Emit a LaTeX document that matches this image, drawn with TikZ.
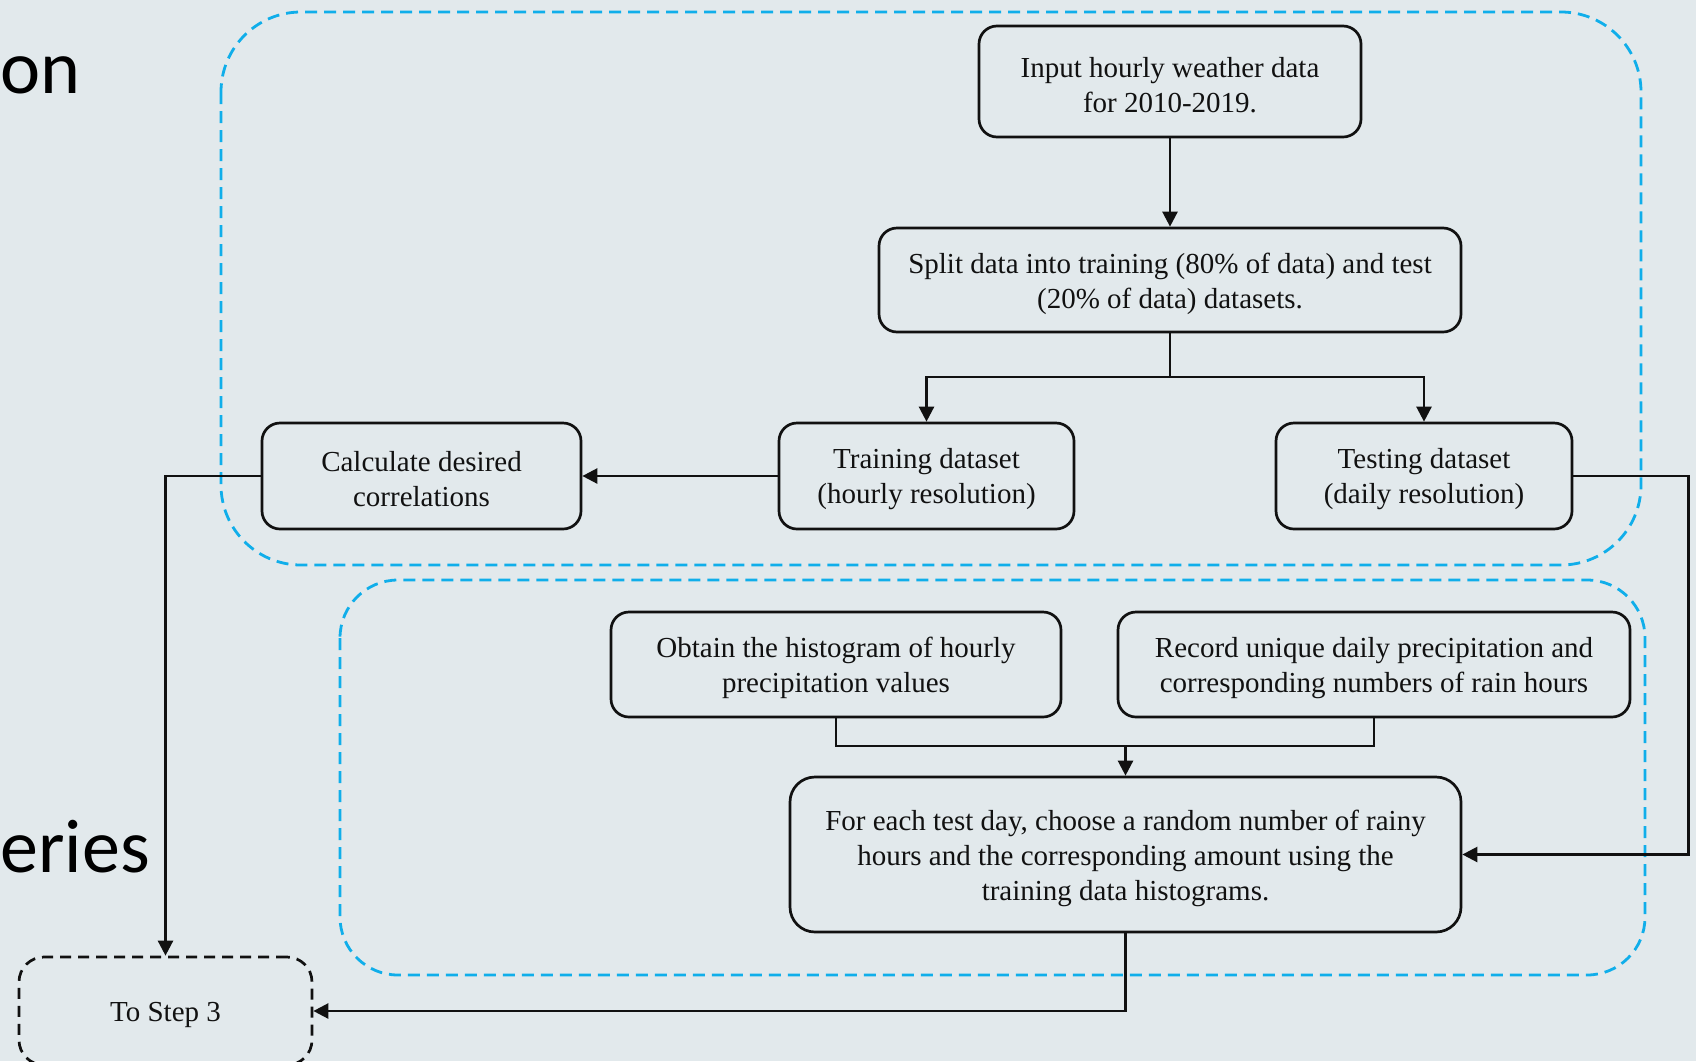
\documentclass[tikz,border=0pt]{standalone}
\usepackage{fontspec}
\setmainfont{Liberation Serif}
\newfontfamily\titlefont{Carlito}
\usetikzlibrary{arrows.meta}
\definecolor{bgcol}{HTML}{E2E9EC}
\definecolor{dashblue}{HTML}{10AEEA}
\definecolor{ink}{HTML}{111111}
\tikzset{
  box/.style={draw=ink, line width=2.7pt, rounded corners=18pt, inner sep=0pt},
  lab/.style={inner sep=0pt, align=center, font=\fontsize{29}{35}\selectfont, text=ink, yshift=-3.5pt},
  conn/.style={draw=ink, line width=2.5pt, -{Triangle[length=15pt,width=15pt]}},
  plain/.style={draw=ink, line width=2.5pt},
  group/.style={draw=dashblue, line width=2.8pt, dash pattern=on 12pt off 7pt},
  title/.style={font=\titlefont\fontsize{76}{90}\selectfont, inner sep=0pt, text=black},
}
\begin{document}
\begin{tikzpicture}[x=1pt,y=-1pt]
\useasboundingbox (0,0) rectangle (1696,1061);
\clip (0,0) rectangle (1696,1061);
\fill[bgcol] (0,0) rectangle (1696,1061);

% partial slide titles
\node[title, anchor=base west] (t1) at (0,93) {on};
\node[title, anchor=base east] (t2) at (150,872) {series};

% dashed groups
\draw[group, rounded corners=80pt] (221,12) rectangle (1641,565);
\draw[group, rounded corners=58pt] (340,580) rectangle (1645,975);

% boxes
\node[box, minimum width=382pt, minimum height=111pt,
  label={[lab]center:{Input hourly weather data\\for 2010-2019.}}] (inp) at (1170,81.5) {};
\node[box, minimum width=582pt, minimum height=104pt,
  label={[lab]center:{Split data into training (80\% of data) and test\\(20\% of data) datasets.}}] (split) at (1170,280) {};
\node[box, minimum width=295pt, minimum height=106pt,
  label={[lab]center:{Training dataset\\(hourly resolution)}}] (train) at (926.5,476) {};
\node[box, minimum width=296pt, minimum height=106pt,
  label={[lab]center:{Testing dataset\\(daily resolution)}}] (test) at (1424,476) {};
\node[box, minimum width=319pt, minimum height=106pt,
  label={[lab]center:{Calculate desired\\correlations}}] (calc) at (421.5,476) {};
\node[box, minimum width=450pt, minimum height=105pt,
  label={[lab]center:{Obtain the histogram of hourly\\precipitation values}}] (obtain) at (836,664.5) {};
\node[box, minimum width=512pt, minimum height=105pt,
  label={[lab]center:{Record unique daily precipitation and\\corresponding numbers of rain hours}}] (record) at (1374,664.5) {};
\node[box, rounded corners=25pt, minimum width=671pt, minimum height=155pt,
  label={[lab]center:{For each test day, choose a random number of rainy\\hours and the corresponding amount using the\\training data histograms.}}] (foreach) at (1125.5,854.5) {};
\node[box, rounded corners=25pt, dash pattern=on 11pt off 7pt, minimum width=293pt, minimum height=108pt,
  label={[lab]center:{To Step 3}}] (step) at (165.5,1011) {};

% connectors
\coordinate (sj) at (1170,377);
\coordinate (mj) at (1125.5,746);
\draw[conn] (inp.south) -- (split.north);
\draw[plain] (split.south) -- (sj);
\draw[conn] (sj) -| (train.north);
\draw[conn] (sj) -| (test.north);
\draw[conn] (train.west) -- (calc.east);
\draw[conn] (calc.west) -| (step.north);
\draw[conn] (test.east) -- ++(115,0) |- (foreach.east);
\draw[plain] (obtain.south) |- (mj);
\draw[plain] (record.south) |- (mj);
\draw[conn] (mj) -- (foreach.north);
\draw[conn] (foreach.south) |- (step.east);
\end{tikzpicture}
\end{document}
